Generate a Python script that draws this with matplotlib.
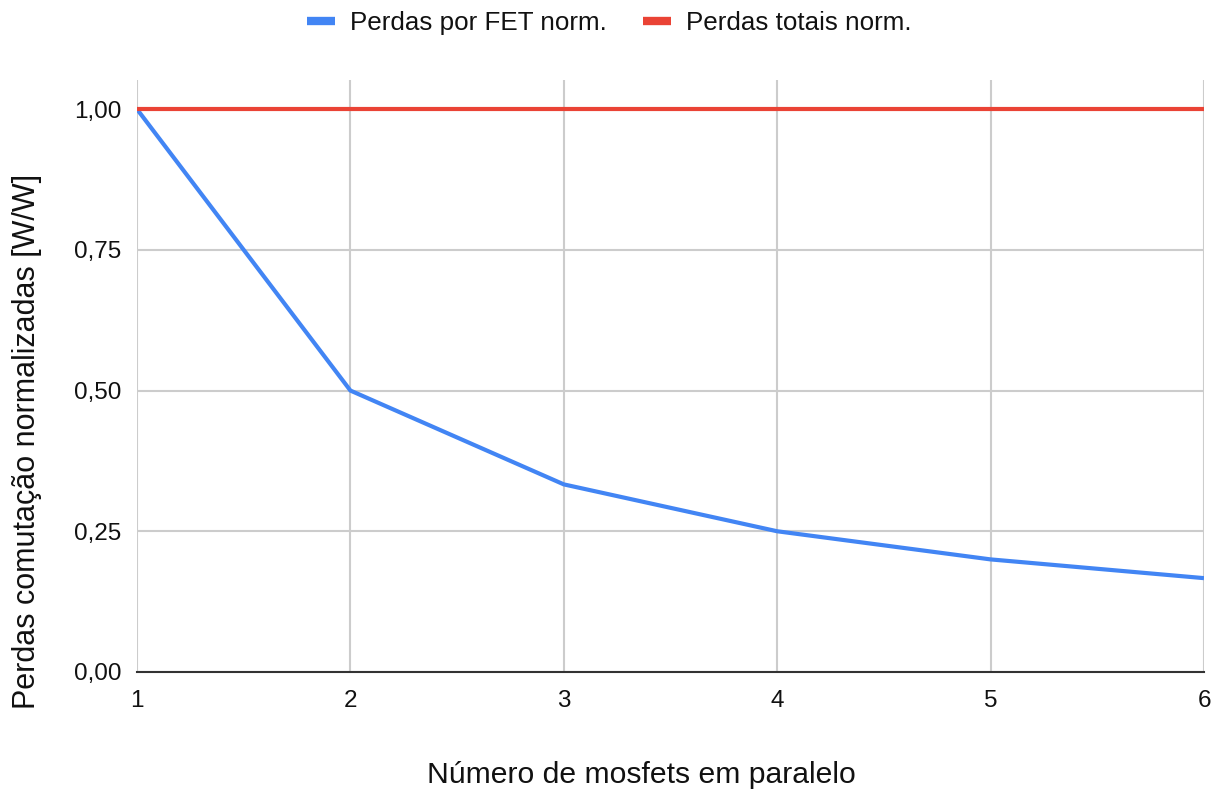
import matplotlib
matplotlib.use("Agg")
import matplotlib.pyplot as plt
from matplotlib.ticker import FuncFormatter

# Data
n_fets = [1, 2, 3, 4, 5, 6]
perdas_por_fet = [1.0, 0.5, 0.3333, 0.25, 0.2, 0.1667]
perdas_totais = [1.0, 1.0, 1.0, 1.0, 1.0, 1.0]
y_ticks = [0.0, 0.25, 0.5, 0.75, 1.0]

plt.rcParams['font.family'] = ['Liberation Sans', 'DejaVu Sans']

fig = plt.figure(figsize=(12.19, 7.94), dpi=100)
ax = fig.add_axes([0.1124, 0.1537, 0.8753, 0.7453])

ax.plot(n_fets, perdas_por_fet, color='#4285F4', lw=3, label='Perdas por FET norm.',
        solid_capstyle='butt', zorder=3)
ax.plot(n_fets, perdas_totais, color='#EA4335', lw=3, label='Perdas totais norm.',
        solid_capstyle='butt', zorder=3)

ax.set_xlim(1, 6)
ax.set_ylim(0, 1.0515)
ax.set_xticks(n_fets)
ax.set_yticks(y_ticks)
ax.yaxis.set_major_formatter(FuncFormatter(lambda v, p: f"{v:.2f}".replace('.', ',')))

ax.grid(True, color='#cccccc', lw=1.5, zorder=0)
for side in ['top', 'right', 'left']:
    ax.spines[side].set_visible(False)
ax.spines['bottom'].set_color('#333333')
ax.spines['bottom'].set_linewidth(1.5)
ax.spines['bottom'].set_zorder(4)
ax.tick_params(length=0, labelsize=17.5, colors='#111111')
ax.tick_params(axis='x', pad=13)
ax.tick_params(axis='y', pad=11)

ax.set_xlabel('Número de mosfets em paralelo', fontsize=21.7, color='#111111', labelpad=35)
ax.set_ylabel('Perdas comutação normalizadas [W/W]', fontsize=22, color='#111111', labelpad=23)
ax.xaxis.label.set_x(0.473)
ax.yaxis.label.set_y(0.39)

leg = fig.legend(loc='center', bbox_to_anchor=(0.5, 1 - 23 / 794), ncol=2, frameon=False,
                 fontsize=18.7, handlelength=1.08, handleheight=0.6, columnspacing=1.4,
                 handletextpad=0.58, labelcolor='#111111')
for h in leg.get_lines():
    h.set_linewidth(6)

fig.savefig('out.png', dpi=100)
